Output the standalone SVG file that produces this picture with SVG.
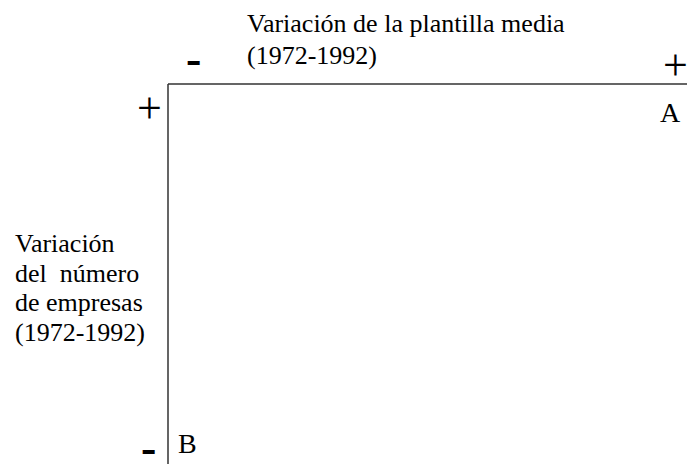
<svg xmlns="http://www.w3.org/2000/svg" width="687" height="464" viewBox="0 0 687 464">
<style>
.t{font-family:"Liberation Serif","Times New Roman",serif;font-size:26px;fill:#000}
.l{font-family:"Liberation Serif","Times New Roman",serif;font-size:28px;fill:#000}
.p{font-family:"Liberation Serif","Times New Roman",serif;font-size:44px;fill:#000}
.m{font-family:"Liberation Serif","Times New Roman",serif;font-size:46px;font-weight:bold;fill:#000}
.ax{stroke:#333;stroke-width:1.5;fill:none}
</style>
<rect width="687" height="464" fill="#fff"/>
<g id="axes">
<path class="ax" d="M168,84 H687 M168,84 V464"/>
</g>
<g id="x-axis-label">
<text class="t" x="247" y="32">Variación de la plantilla media</text>
<text class="t" x="247" y="64">(1972-1992)</text>
</g>
<g id="y-axis-label">
<text class="t" x="15" y="252">Variación</text>
<text class="t" x="15" y="282">del&#160; número</text>
<text class="t" x="15" y="311">de empresas</text>
<text class="t" x="15" y="341">(1972-1992)</text>
</g>
<g id="signs">
<text class="m" x="186" y="74">-</text>
<text class="p" x="663" y="80">+</text>
<text class="p" x="137" y="123">+</text>
<text class="m" x="141" y="463">-</text>
</g>
<g id="points">
<text class="l" x="660" y="122">A</text>
<text class="l" x="178" y="453">B</text>
</g>
</svg>
